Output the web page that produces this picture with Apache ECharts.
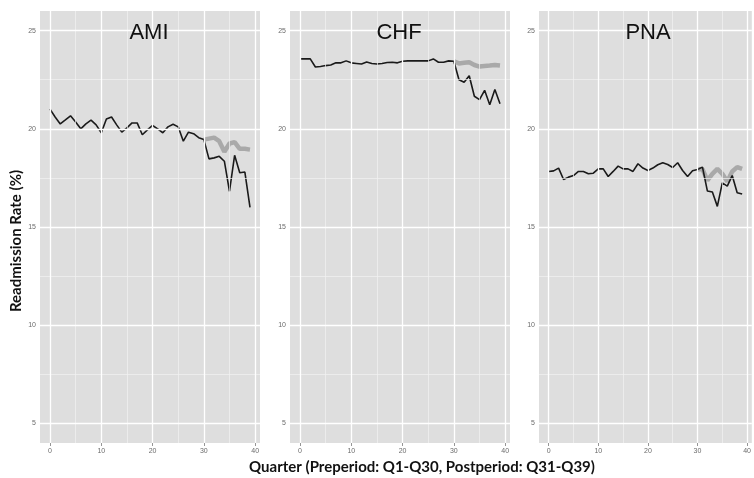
<!DOCTYPE html>
<html>
<head>
<meta charset="utf-8">
<script src="https://cdn.jsdelivr.net/npm/echarts@6/dist/echarts.min.js"></script>
<style>
  html, body { margin: 0; padding: 0; background: #fff; }
  #chart { width: 754px; height: 478px; }
</style>
</head>
<body>
<div id="chart"></div>
<script>
  // panels and quarters
  const panels = ['AMI', 'CHF', 'PNA']
  const quarters = [0, 1, 2, 3, 4, 5, 6, 7, 8, 9, 10, 11, 12, 13, 14, 15, 16, 17, 18, 19,
    20, 21, 22, 23, 24, 25, 26, 27, 28, 29, 30, 31, 32, 33, 34, 35, 36, 37, 38, 39]
  const postQuarters = [30, 31, 32, 33, 34, 35, 36, 37, 38, 39]

  // observed readmission rate (%)
  const amiObserved = [21.0, 20.6, 20.25, 20.45, 20.66, 20.35, 20.0, 20.25, 20.44, 20.2,
    19.8, 20.5, 20.6, 20.2, 19.83, 20.05, 20.3, 20.3, 19.7, 19.95,
    20.17, 20.0, 19.8, 20.1, 20.23, 20.1, 19.37, 19.83, 19.75, 19.55,
    19.45, 18.47, 18.52, 18.6, 18.35, 16.82, 18.65, 17.76, 17.8, 16.0]
  const chfObserved = [23.56, 23.56, 23.56, 23.15, 23.17, 23.22, 23.25, 23.36, 23.36, 23.46,
    23.36, 23.33, 23.3, 23.4, 23.33, 23.3, 23.33, 23.38, 23.39, 23.36,
    23.44, 23.46, 23.47, 23.46, 23.46, 23.46, 23.56, 23.39, 23.39, 23.46,
    23.44, 22.5, 22.37, 22.7, 21.66, 21.49, 21.96, 21.23, 22.0, 21.28]
  const pnaObserved = [17.83, 17.86, 18.0, 17.42, 17.54, 17.62, 17.83, 17.83, 17.71, 17.74,
    17.96, 17.96, 17.57, 17.83, 18.1, 17.96, 17.96, 17.83, 18.22, 18.0,
    17.88, 18.0, 18.17, 18.27, 18.18, 18.03, 18.27, 17.88, 17.57, 17.86,
    17.93, 18.05, 16.83, 16.78, 16.05, 17.25, 17.08, 17.62, 16.74, 16.68]

  // predicted (counterfactual) for the post period
  const amiPredicted = [19.45, 19.5, 19.55, 19.37, 18.83, 19.25, 19.32, 18.98, 18.98, 18.94]
  const chfPredicted = [23.44, 23.33, 23.36, 23.39, 23.25, 23.17, 23.2, 23.22, 23.25, 23.22]
  const pnaPredicted = [17.93, 17.95, 17.37, 17.71, 17.96, 17.71, 17.32, 17.83, 18.05, 17.96]

  // tick labels
  const xTicks = [0, 10, 20, 30, 40]
  const xMinor = [5, 15, 25, 35]
  const yTicks = [5, 10, 15, 20, 25]
  const yMinor = [7.5, 12.5, 17.5, 22.5]

  const observed = [amiObserved, chfObserved, pnaObserved]
  const predicted = [amiPredicted, chfPredicted, pnaPredicted]
  const gridLefts = [40, 290, 539]
  const PANEL_W = 220

  const dom = echarts.init(document.getElementById('chart'))

  const grids = []
  const xAxes = []
  const yAxes = []
  const series = []
  const graphics = []

  const labelStyle = { color: '#6b6b6b', fontSize: 7, fontFamily: 'Liberation Sans' }
  const tickStyle = { lineStyle: { color: '#7a7a7a', width: 0.8 } }

  panels.forEach((name, i) => {
    grids.push({
      left: gridLefts[i], top: 11, width: PANEL_W, height: 432,
      show: true, backgroundColor: '#dedede', borderWidth: 0
    })
    xAxes.push({
      type: 'value', gridIndex: i, min: -1.95, max: 40.95,
      axisLine: { show: false },
      axisTick: { show: true, length: 3, customValues: xTicks, ...tickStyle },
      axisLabel: { ...labelStyle, margin: 5, customValues: xTicks },
      splitLine: { show: false }
    })
    yAxes.push({
      type: 'value', gridIndex: i, min: 4, max: 26,
      axisLine: { show: false },
      axisTick: { show: true, length: 3, customValues: yTicks, ...tickStyle },
      axisLabel: { ...labelStyle, margin: 4, customValues: yTicks },
      splitLine: { show: false }
    })

    // white ggplot-style grid lines
    const major = { color: '#ffffff', width: 1.3, type: 'solid' }
    const minor = { color: '#f2f2f2', width: 0.7, type: 'solid' }
    series.push({
      type: 'line', xAxisIndex: i, yAxisIndex: i, data: [], z: 1,
      silent: true,
      markLine: {
        silent: true, symbol: 'none', animation: false,
        label: { show: false },
        data: [
          ...xMinor.map(v => ({ xAxis: v, lineStyle: minor })),
          ...yMinor.map(v => ({ yAxis: v, lineStyle: minor })),
          ...xTicks.map(v => ({ xAxis: v, lineStyle: major })),
          ...yTicks.map(v => ({ yAxis: v, lineStyle: major }))
        ]
      }
    })

    series.push({
      name: name + ' predicted', type: 'line', xAxisIndex: i, yAxisIndex: i, z: 3,
      showSymbol: false, symbol: 'none',
      lineStyle: { color: '#a9a9a9', width: 4.5 },
      data: postQuarters.map((q, k) => [q, predicted[i][k]])
    })
    series.push({
      name: name + ' observed', type: 'line', xAxisIndex: i, yAxisIndex: i, z: 4,
      showSymbol: false, symbol: 'none',
      lineStyle: { color: '#1a1a1a', width: 1.6 },
      data: quarters.map((q, k) => [q, observed[i][k]])
    })

    graphics.push({
      type: 'text', x: gridLefts[i] + PANEL_W / 2 - 1, y: 33, z: 100,
      style: {
        text: name, fill: '#111', font: '22px "Liberation Sans"',
        textAlign: 'center', textVerticalAlign: 'middle'
      }
    })
  })

  graphics.push({
    type: 'text', x: 16, y: 241, rotation: Math.PI / 2, z: 100,
    style: {
      text: 'Readmission Rate (%)', fill: '#111',
      font: 'bold 15px Lato', textAlign: 'center', textVerticalAlign: 'middle'
    }
  })
  graphics.push({
    type: 'text', x: 422, y: 467, z: 100,
    style: {
      text: 'Quarter (Preperiod: Q1-Q30, Postperiod: Q31-Q39)', fill: '#111',
      font: 'bold 15px Lato', textAlign: 'center', textVerticalAlign: 'middle'
    }
  })

  const option = {
    backgroundColor: '#ffffff',
    animation: false,
    grid: grids,
    xAxis: xAxes,
    yAxis: yAxes,
    series: series,
    graphic: graphics
  }
  dom.setOption(option)
  window.addEventListener('resize', () => dom.resize())
</script>
</body>
</html>
